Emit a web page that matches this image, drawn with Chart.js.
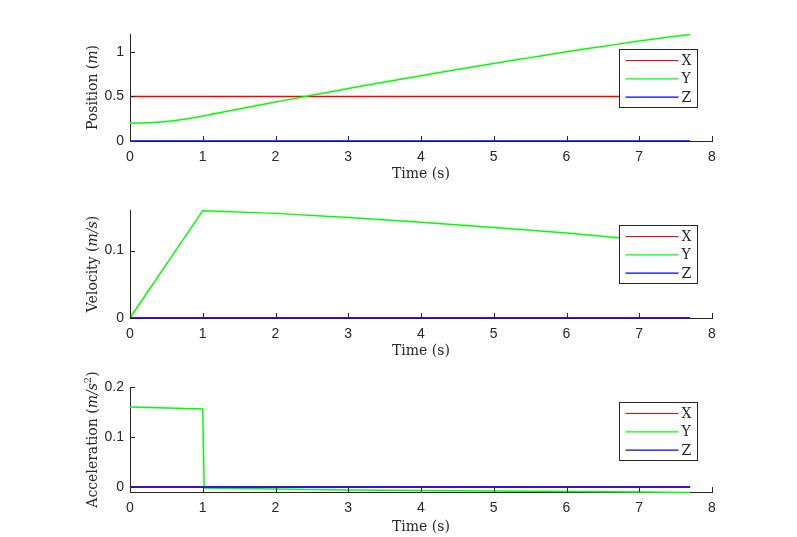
<!DOCTYPE html>
<html><head><meta charset="utf-8">
<script src="https://cdn.jsdelivr.net/npm/chart.js@4"></script>
<style>
html,body{margin:0;padding:0;background:#fff;width:797px;height:537px;overflow:hidden}
.p{position:absolute;left:0;width:797px}
canvas{display:block}
</style></head><body>
<div class="p" style="top:0px;height:186px"><canvas id="c1" width="797" height="186"></canvas></div>
<div class="p" style="top:176px;height:186px"><canvas id="c2" width="797" height="186"></canvas></div>
<div class="p" style="top:353px;height:184px"><canvas id="c3" width="797" height="184"></canvas></div>
<script>
// ---------- data ----------
const seriesLabels = ['X', 'Y', 'Z'];
const timeTicks = [0, 1, 2, 3, 4, 5, 6, 7, 8];

const posTime = [0, 0.25, 0.5, 0.75, 1, 1.5, 2, 2.5, 3, 3.5, 4, 4.5, 5, 5.5, 6, 6.5, 7, 7.7];
const posX = [0.5, 0.5, 0.5, 0.5, 0.5, 0.5, 0.5, 0.5, 0.5, 0.5, 0.5, 0.5, 0.5, 0.5, 0.5, 0.5, 0.5, 0.5];
const posY = [0.200, 0.205, 0.220, 0.245, 0.280, 0.359, 0.437, 0.514, 0.588, 0.661, 0.733, 0.802, 0.870, 0.935, 1.000, 1.061, 1.121, 1.195];
const posZ = [0, 0, 0, 0, 0, 0, 0, 0, 0, 0, 0, 0, 0, 0, 0, 0, 0, 0];
const posTicks = [0, 0.5, 1];

const velTime = [0, 1, 2, 3, 4, 5, 6, 7, 7.7];
const velX = [0, 0, 0, 0, 0, 0, 0, 0, 0];
const velY = [0, 0.159, 0.155, 0.149, 0.142, 0.134, 0.126, 0.116, 0.108];
const velZ = [0, 0, 0, 0, 0, 0, 0, 0, 0];
const velTicks = [0, 0.1];

const accTime = [0, 1, 1.02, 2, 3, 4, 5, 6, 7, 7.7];
const accX = [0, 0, 0, 0, 0, 0, 0, 0, 0, 0];
const accY = [0.160, 0.156, -0.002, -0.004, -0.006, -0.007, -0.008, -0.009, -0.010, -0.011];
const accZ = [0, 0, 0, 0, 0, 0, 0, 0, 0, 0];
const accTicks = [0, 0.1, 0.2];

// ---------- styling ----------
const axisColor = '#262626';
const lineColors = ['#ff0000', '#00ff00', '#0000ff'];
const serif = "'DejaVu Serif', 'Liberation Serif', serif";
const sans = "'Liberation Sans', Arial, sans-serif";

function pts(t, v) { return t.map((x, i) => ({ x: x, y: v[i] })); }

const inwardTicks = {
  id: 'inwardTicks',
  afterDatasetsDraw(chart) {
    const { ctx, chartArea: a, scales: { x, y } } = chart;
    ctx.save();
    ctx.strokeStyle = axisColor; ctx.lineWidth = 1;
    ctx.beginPath();
    x.ticks.forEach(t => {
      const px = Math.round(x.getPixelForValue(t.value)) + 0.5;
      ctx.moveTo(px, a.bottom); ctx.lineTo(px, a.bottom - 5);
    });
    y.ticks.forEach(t => {
      const py = Math.round(y.getPixelForValue(t.value)) + 0.5;
      ctx.moveTo(a.left, py); ctx.lineTo(a.left + 5, py);
    });
    ctx.stroke();
    ctx.restore();
  }
};

const boxLegend = {
  id: 'boxLegend',
  afterDraw(chart) {
    const { ctx, chartArea: a } = chart;
    const w = 78, h = 58;
    const left = Math.round(a.right - 15 - w) + 0.5, top = Math.round(a.top + 15) + 0.5;
    ctx.save();
    ctx.fillStyle = '#fff';
    ctx.fillRect(left, top, w, h);
    ctx.strokeStyle = axisColor; ctx.lineWidth = 1;
    ctx.strokeRect(left, top, w, h);
    const ds = chart.data.datasets;
    ds.forEach((d, i) => {
      const yy = top + 11 + i * 18.3;
      ctx.strokeStyle = d.borderColor; ctx.lineWidth = 1.2;
      ctx.beginPath(); ctx.moveTo(left + 6, yy); ctx.lineTo(left + 59, yy); ctx.stroke();
      ctx.fillStyle = axisColor;
      ctx.font = '14px ' + serif;
      ctx.textBaseline = 'middle'; ctx.textAlign = 'left';
      ctx.fillText(d.label, left + 62, yy + 1);
    });
    ctx.restore();
  }
};

const yTitle = {
  id: 'yTitle',
  afterDraw(chart, args, opts) {
    const { ctx, chartArea: a } = chart;
    const segs = opts.segments || [];
    const fontOf = s => (s.i ? 'italic ' : '') + (s.sup ? '10px ' : '14px ') + serif;
    ctx.save();
    ctx.translate(93, (a.top + a.bottom) / 2);
    ctx.rotate(-Math.PI / 2);
    let total = 0;
    const ws = segs.map(s => { ctx.font = fontOf(s); const m = ctx.measureText(s.t).width; total += m; return m; });
    let xx = -total / 2;
    ctx.fillStyle = axisColor; ctx.textBaseline = 'middle'; ctx.textAlign = 'left';
    segs.forEach((s, i) => { ctx.font = fontOf(s); ctx.fillText(s.t, xx, s.sup ? -5 : 0); xx += ws[i]; });
    ctx.restore();
  }
};

function makeChart(id, canvasH, areaBottom, time, xs, ys, zs, yMin, yMax, yTicks, titleSegs, smooth, titlePad) {
  const datasets = [xs, ys, zs].map((v, i) => ({
    label: seriesLabels[i],
    data: pts(time, v),
    borderColor: lineColors[i],
    backgroundColor: lineColors[i],
    borderWidth: 1.5,
    pointRadius: 0,
    fill: false,
    clip: false,
    order: 3 - i,
    cubicInterpolationMode: (smooth && i === 1) ? 'monotone' : 'default',
    tension: 0
  }));
  return new Chart(document.getElementById(id), {
    type: 'line',
    data: { datasets },
    options: {
      responsive: false, animation: false, devicePixelRatio: 1,
      layout: { padding: { top: 34, right: 85, left: 0, bottom: 0 } },
      plugins: { legend: { display: false }, tooltip: { enabled: false }, yTitle: { segments: titleSegs } },
      scales: {
        x: {
          type: 'linear', min: 0, max: 8,
          afterBuildTicks: s => { s.ticks = timeTicks.map(v => ({ value: v })); },
          afterFit: s => { s.height = canvasH - areaBottom; },
          grid: { display: false, drawTicks: false },
          border: { display: true, color: axisColor, width: 1 },
          ticks: { color: axisColor, font: { family: sans, size: 14 }, padding: 8, maxRotation: 0, callback: v => String(v) },
          title: { display: true, text: 'Time (s)', color: axisColor, font: { family: serif, size: 14 }, padding: { top: 0, bottom: titlePad } }
        },
        y: {
          type: 'linear', min: yMin, max: yMax,
          afterBuildTicks: s => { s.ticks = yTicks.map(v => ({ value: v })); },
          afterFit: s => { s.width = 130; },
          grid: { display: false, drawTicks: false },
          border: { display: true, color: axisColor, width: 1 },
          ticks: { color: axisColor, font: { family: sans, size: 14 }, padding: 6, callback: v => String(v) }
        }
      }
    },
    plugins: [inwardTicks, boxLegend, yTitle]
  });
}

makeChart('c1', 186, 141, posTime, posX, posY, posZ, 0, 1.2, posTicks,
  [{ t: 'Position (' }, { t: 'm', i: true }, { t: ')' }], true, 3);
makeChart('c2', 186, 142, velTime, velX, velY, velZ, 0, 0.16, velTicks,
  [{ t: 'Velocity (' }, { t: 'm/s', i: true }, { t: ')' }], false, 2);
makeChart('c3', 184, 139, accTime, accX, accY, accZ, -0.01, 0.2, accTicks,
  [{ t: 'Acceleration (' }, { t: 'm/s', i: true }, { t: '2', sup: true }, { t: ')' }], false, 1);
</script>
</body></html>
